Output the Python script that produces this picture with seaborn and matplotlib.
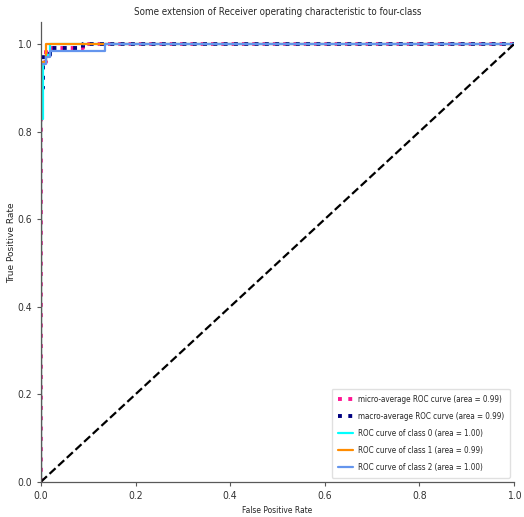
import matplotlib
matplotlib.use("Agg")
import matplotlib.pyplot as plt
import seaborn as sns
import pandas as pd

# ROC curve data
fpr_micro = [0.0, 0.0, 0.01, 0.01, 0.09, 0.09, 1.0]
tpr_micro = [0.0, 0.96, 0.96, 0.99, 0.99, 1.0, 1.0]
fpr_macro = [0.0, 0.005, 0.005, 0.02, 0.02, 0.09, 0.09, 1.0]
tpr_macro = [0.90, 0.90, 0.975, 0.975, 0.99, 0.99, 1.0, 1.0]
fpr_c0 = [0.0, 0.0, 0.005, 0.005, 0.01, 0.01, 0.02, 0.02, 1.0]
tpr_c0 = [0.0, 0.83, 0.83, 0.96, 0.96, 0.975, 0.975, 1.0, 1.0]
fpr_c1 = [0.0, 0.0, 0.01, 0.01, 1.0]
tpr_c1 = [0.0, 0.96, 0.96, 1.0, 1.0]
fpr_c2 = [0.0, 0.0, 0.01, 0.01, 0.02, 0.02, 0.135, 0.135, 1.0]
tpr_c2 = [0.0, 0.955, 0.955, 0.97, 0.97, 0.985, 0.985, 1.0, 1.0]
diag = [0.0, 1.0]

labels = ["micro-average ROC curve (area = 0.99)",
          "macro-average ROC curve (area = 0.99)",
          "ROC curve of class 0 (area = 1.00)",
          "ROC curve of class 1 (area = 0.99)",
          "ROC curve of class 2 (area = 1.00)"]

sns.set_theme(style="ticks")
plt.rcParams['font.family'] = ['DejaVu Sans']

fig = plt.figure(figsize=(5.24, 5.17), dpi=100)
ax = fig.add_axes([0.078, 0.068, 0.903, 0.889])

series = [
    (fpr_micro, tpr_micro, 'deeppink', ':', 2.8),
    (fpr_macro, tpr_macro, 'navy', ':', 2.8),
    (fpr_c0, tpr_c0, 'aqua', '-', 1.6),
    (fpr_c1, tpr_c1, 'darkorange', '-', 1.6),
    (fpr_c2, tpr_c2, 'cornflowerblue', '-', 1.6),
]
for (fx, ty, col, ls, lw), lab in zip(series, labels):
    df = pd.DataFrame({"fpr": fx, "tpr": ty})
    sns.lineplot(data=df, x="fpr", y="tpr", sort=False, estimator=None,
                 color=col, linestyle=ls, linewidth=lw, label=lab, ax=ax)

sns.lineplot(x=diag, y=diag, color='black', linestyle='--', linewidth=1.6,
             sort=False, estimator=None, ax=ax)

ax.set_xlim(0.0, 1.0)
ax.set_ylim(0.0, 1.05)
ax.set_xlabel("False Positive Rate", fontsize=6, fontstretch='condensed', labelpad=4)
ax.set_ylabel("True Positive Rate", fontsize=6.5)
ax.yaxis.set_label_coords(-0.052, 0.52)
ax.set_title("Some extension of Receiver operating characteristic to four-class",
             fontsize=7, fontstretch='condensed', pad=5)
ax.tick_params(labelsize=7.5, length=3, width=0.8, color='0.35', labelcolor='0.2')
for t in ax.get_xticklabels() + ax.get_yticklabels():
    t.set_fontstretch('condensed')
sns.despine(ax=ax)
for s in ('left', 'bottom'):
    ax.spines[s].set_color('0.35')
    ax.spines[s].set_linewidth(0.9)
leg = ax.legend(loc="lower right", frameon=True,
                handlelength=1.9, handletextpad=0.6, labelspacing=1.0,
                borderpad=0.75,
                prop={'stretch': 'condensed', 'size': 5.8})
leg.get_frame().set_edgecolor('0.85')

fig.savefig("out.png", dpi=100)
